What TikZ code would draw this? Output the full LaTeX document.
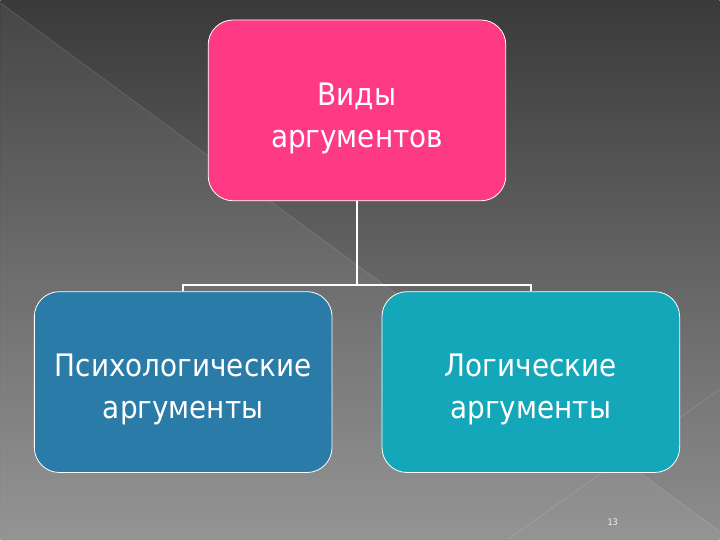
\documentclass[tikz,border=0pt]{standalone}
\usepackage{fontspec}
\setmainfont{DejaVu Sans}[FakeStretch=0.9]
\usetikzlibrary{positioning}

\definecolor{bgtop}{HTML}{3A3A3A}
\definecolor{bgbot}{HTML}{8E8E8E}
\definecolor{pinkbox}{HTML}{FF3A84}
\definecolor{bluebox}{HTML}{2A7BA7}
\definecolor{tealbox}{HTML}{14A7B9}

\tikzset{
  kind/.style={draw=white, line width=0.8pt, rounded corners=25pt, minimum width=298pt,
    minimum height=181pt, inner sep=0pt, align=center, text=white,
    font=\fontsize{31}{42}\selectfont},
  conn/.style={draw=white, line width=1.6pt}
}

\begin{document}
\begin{tikzpicture}[x=1pt,y=-1pt,node distance=272pt and 174pt,on grid]
	% background
	\shade[top color=bgtop, bottom color=bgbot] (0,0) rectangle (720,540);
	\fill[white, opacity=0.06] (0,3) -- (720,532) -- (720,540) -- (0,540) -- cycle;
	\draw[white, opacity=0.12, line width=0.8pt] (0,3) -- (720,532);
	\draw[white, opacity=0.12, line width=0.8pt] (720,390) -- (508,540);
	\useasboundingbox (0,0) rectangle (720,540);

	\node[kind, fill=pinkbox] (types) at (357,110.5) {\rule{0pt}{38pt}Виды\\ аргументов};
	\node[kind, fill=bluebox] (psych) [below left=of types] {\rule{0pt}{38pt}Психологические\\ аргументы};
	\node[kind, fill=tealbox] (logic) [below right=of types] {\rule{0pt}{38pt}Логические\\ аргументы};

	\draw[conn] (types.south) -- ([yshift=-84pt]types.south) coordinate (fork);
	\draw[conn] (fork) -| (psych.north);
	\draw[conn] (fork) -| (logic.north);

	\node[text=white!90!gray, font=\fontsize{9}{10}\selectfont] (page) at (613,523) {13};
\end{tikzpicture}
\end{document}
